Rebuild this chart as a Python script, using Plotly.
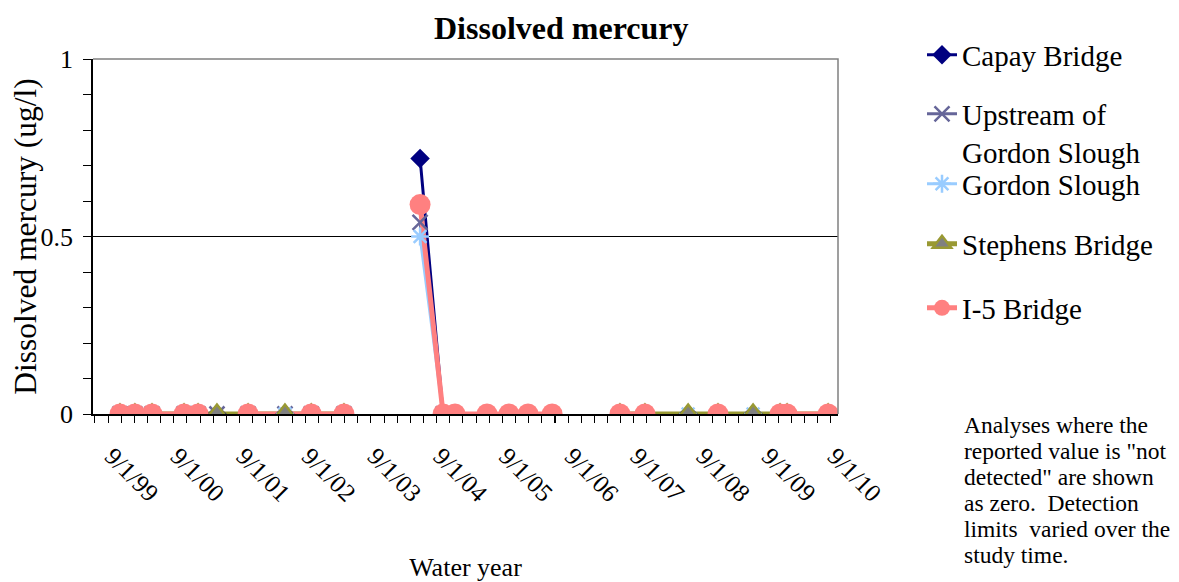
import plotly.graph_objects as go

# x-axis: one labelled tick per water year (Sept 1)
year_ticks = ["1999-09-01", "2000-09-01", "2001-09-01", "2002-09-01",
              "2003-09-01", "2004-09-01", "2005-09-01", "2006-09-01",
              "2007-09-01", "2008-09-01", "2009-09-01", "2010-09-01"]
year_labels = ["9/1/99", "9/1/00", "9/1/01", "9/1/02", "9/1/03", "9/1/04",
               "9/1/05", "9/1/06", "9/1/07", "9/1/08", "9/1/09", "9/1/10"]

# None values break the line (no sampling in that period)
capay_dates = ["2000-01-18", "2000-04-10", "2000-07-14", "2001-01-08", "2001-03-27",
               "2001-07-10", "2001-12-30", "2002-07-23", "2002-12-16", "2003-06-16",
               "2004-01-01",
               "2004-08-12", "2004-12-18", "2005-02-22", "2005-08-19", "2005-12-19",
               "2006-04-04", "2006-08-16",
               "2007-01-01",
               "2007-08-28", "2008-01-14", "2008-09-10", "2009-02-23", "2009-09-06",
               "2010-02-03", "2010-03-14", "2010-10-28"]
capay_values = [0, 0, 0, 0, 0, 0, 0, 0, 0, 0,
                None,
                0.72, 0, 0, 0, 0, 0, 0,
                None,
                0, 0, 0, 0, 0, 0, 0, 0]

upstream_dates = ["2000-01-18", "2000-04-10", "2000-07-14", "2001-01-08", "2001-03-27",
                  "2001-07-10", "2001-12-30", "2002-07-23", "2002-12-16", "2003-06-16",
                  "2004-01-01",
                  "2004-08-12", "2004-12-18"]
upstream_values = [0, 0, 0, 0, 0, 0, 0, 0, 0, 0,
                   None,
                   0.54, 0]

gordon_dates = ["2002-07-23", "2002-12-16", "2003-06-16",
                "2004-01-01",
                "2004-08-12", "2004-12-18", "2005-02-22", "2005-08-19", "2005-12-19",
                "2006-04-04", "2006-08-16",
                "2007-01-01",
                "2007-08-28", "2008-01-14", "2008-09-10", "2009-02-23", "2009-09-06",
                "2010-02-03", "2010-03-14", "2010-10-28"]
gordon_values = [0, 0, 0,
                 None,
                 0.50, 0, 0, 0, 0, 0, 0,
                 None,
                 0, 0, 0, 0, 0, 0, 0, 0]

stephens_dates = ["2000-01-18", "2000-04-10", "2000-07-14", "2001-01-08", "2001-03-27",
                  "2001-07-10", "2001-12-30", "2002-07-23", "2002-12-16", "2003-06-16",
                  "2005-01-01",
                  "2007-08-28", "2008-01-14", "2008-09-10", "2009-02-23", "2009-09-06",
                  "2010-02-03", "2010-03-14", "2010-10-28"]
stephens_values = [0, 0, 0, 0, 0, 0, 0, 0, 0, 0,
                   None,
                   0, 0, 0, 0, 0, 0, 0, 0]

i5_dates = ["2000-01-18", "2000-04-10", "2000-07-14", "2001-01-08", "2001-03-27",
            "2001-07-10", "2001-12-30", "2002-12-16", "2003-06-16",
            "2004-01-01",
            "2004-08-12", "2004-12-18", "2005-02-22", "2005-08-19", "2005-12-19",
            "2006-04-04", "2006-08-16",
            "2007-01-01",
            "2007-08-28", "2008-01-14", "2008-09-10", "2009-02-23", "2009-09-06",
            "2010-02-03", "2010-03-14", "2010-10-28"]
i5_values = [0, 0, 0, 0, 0, None, 0, 0, 0,
             None,
             0.59, 0, 0, 0, 0, 0, 0,
             None,
             0, 0, None, 0, None, 0, 0, 0]

note_lines = ["Analyses where the", "reported value is \"not",
              "detected\" are shown", "as zero.  Detection",
              "limits  varied over the", "study time."]

SERIF = "Liberation Serif, Times New Roman, serif"

# the page body adds an 8px offset, so the figure is drawn 8px smaller
OFF = 8
W, H = 1179 - OFF, 582 - OFF
PLOT_L, PLOT_R, PLOT_T, PLOT_B = 93, 838, 59, 414   # plot area in screen pixels


def px_x(px):
    return (px - PLOT_L) / (PLOT_R - PLOT_L)


def px_y(py):
    return (PLOT_B - py) / (PLOT_B - PLOT_T)


series = [
    dict(name="Capay Bridge", x=capay_dates, y=capay_values, color="#000080", lw=3,
         marker=dict(symbol="diamond", size=15, color="#000080")),
    dict(name="Upstream of<br>Gordon Slough", x=upstream_dates, y=upstream_values,
         color="#666699", lw=3,
         marker=dict(symbol="x-thin", size=15, line=dict(color="#666699", width=2.5))),
    dict(name="Gordon Slough", x=gordon_dates, y=gordon_values, color="#99CCFF", lw=3,
         marker=dict(symbol="asterisk", size=15, line=dict(color="#99CCFF", width=2.5))),
    dict(name="Stephens Bridge", x=stephens_dates, y=stephens_values, color="#999933", lw=5,
         marker=dict(symbol="triangle-up", size=19, color="#808080",
                     line=dict(color="#999933", width=2.5))),
    dict(name="I-5 Bridge", x=i5_dates, y=i5_values, color="#FF8080", lw=5,
         marker=dict(symbol="circle", size=21, color="#FF8080")),
]

fig = go.Figure()

# Excel draws all lines first, then all markers
for s in series:
    fig.add_trace(go.Scatter(x=s["x"], y=s["y"], mode="lines", connectgaps=False,
                             line=dict(color=s["color"], width=s["lw"]),
                             showlegend=False, hoverinfo="skip"))
for s in series:
    fig.add_trace(go.Scatter(x=s["x"], y=s["y"], mode="markers", marker=s["marker"],
                             name=s["name"], showlegend=False))

# legend entries, each in its own legend box so the spacing matches
legend_centers = [55, 133, 184, 244, 308]
legend_layout = {}
for i, s in enumerate(series):
    key = "legend" if i == 0 else f"legend{i + 1}"
    fig.add_trace(go.Scatter(x=[None], y=[None], mode="lines+markers", name=s["name"],
                             line=dict(color=s["color"], width=s["lw"]),
                             marker=s["marker"], legend=key, hoverinfo="skip"))
    legend_layout[key] = dict(
        x=px_x(922), xanchor="left", y=px_y(legend_centers[i]), yanchor="middle",
        font=dict(family=SERIF, size=29, color="black"),
        bgcolor="rgba(0,0,0,0)", valign="top", tracegroupgap=0,
    )

for j, line in enumerate(note_lines):
    fig.add_annotation(text=line, xref="paper", yref="paper", x=px_x(962), xanchor="left",
                       y=px_y(425 + 26 * j), yanchor="middle", showarrow=False,
                       font=dict(family=SERIF, size=23.5, color="black"))

fig.add_annotation(text="<b>Dissolved mercury</b>", xref="paper", yref="paper",
                   x=px_x(561), xanchor="center", y=px_y(28), yanchor="middle",
                   showarrow=False, font=dict(family=SERIF, size=32, color="black"))

# grey frame on top and right of the plot area
fig.add_shape(type="path", path="M 0,1 L 1,1 L 1,0", xref="x domain", yref="y domain",
              line=dict(color="#808080", width=1.5), layer="above")

fig.update_layout(
    width=W, height=H,
    margin=dict(l=PLOT_L - OFF, r=W - (PLOT_R - OFF), t=PLOT_T - OFF, b=H - (PLOT_B - OFF)),
    paper_bgcolor="white", plot_bgcolor="white",
    font=dict(family=SERIF, color="black"),
    xaxis=dict(
        type="date", range=["1999-08-21", "2010-12-22"], automargin=False,
        tickvals=year_ticks, ticktext=year_labels, tickangle=45,
        tickfont=dict(family=SERIF, size=25, color="black"),
        ticklabelshift=17, ticklabelstandoff=9,
        ticks="outside", ticklen=7, tickcolor="black", tickwidth=1,
        minor=dict(ticks="outside", ticklen=7, tickcolor="black",
                   dtick=73.05 * 86400000, tick0="1999-09-01", showgrid=False),
        showline=True, linecolor="black", linewidth=1.5,
        showgrid=False, zeroline=False,
        title=dict(text="Water year", font=dict(family=SERIF, size=26, color="black"),
                   standoff=54),
    ),
    yaxis=dict(
        range=[0, 1], tickvals=[0, 0.5, 1], ticktext=["0", "0.5", "1"], automargin=False,
        tickfont=dict(family=SERIF, size=26, color="black"),
        ticks="outside", ticklen=8, tickcolor="black", ticklabelstandoff=5,
        minor=dict(ticks="outside", ticklen=8, tickcolor="black", dtick=0.1,
                   showgrid=False),
        showline=True, linecolor="black", linewidth=1.5,
        showgrid=True, gridcolor="black", gridwidth=1, zeroline=False,
        title=dict(text="Dissolved mercury (ug/l)",
                   font=dict(family=SERIF, size=31.5, color="black"), standoff=0),
    ),
    **legend_layout,
)

fig.write_html("out.html")
